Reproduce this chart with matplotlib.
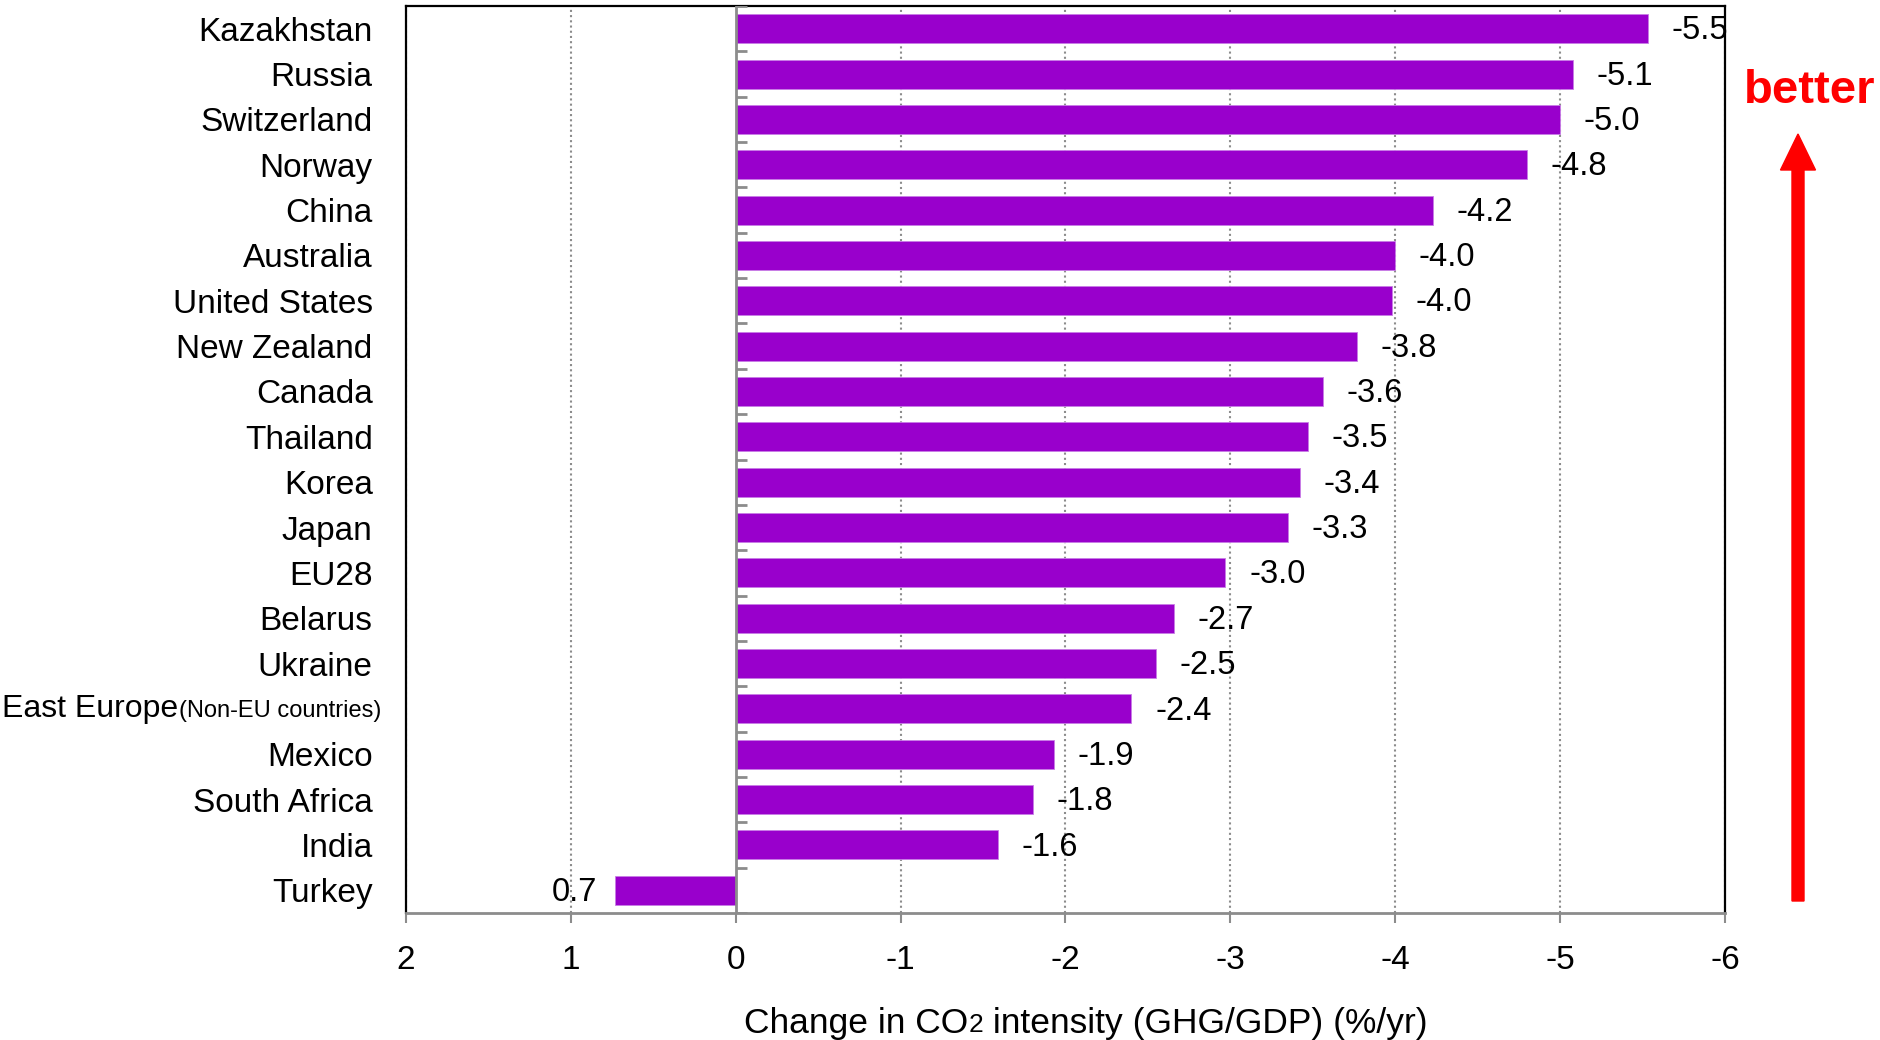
import matplotlib
matplotlib.use("Agg")
import matplotlib.pyplot as plt
import matplotlib.transforms as mtransforms
import numpy as np
from matplotlib.offsetbox import AnnotationBbox, HPacker, TextArea
from matplotlib.patches import FancyArrow

plt.rcParams["font.family"] = ["Liberation Sans", "DejaVu Sans"]

countries = [
    "Kazakhstan", "Russia", "Switzerland", "Norway", "China", "Australia",
    "United States", "New Zealand", "Canada", "Thailand", "Korea", "Japan",
    "EU28", "Belarus", "Ukraine", "East Europe", "Mexico", "South Africa",
    "India", "Turkey",
]
change = [
    -5.53, -5.08, -5.00, -4.80, -4.23, -4.00, -3.98, -3.77, -3.56, -3.47,
    -3.42, -3.35, -2.97, -2.66, -2.55, -2.40, -1.93, -1.80, -1.59, 0.73,
]
value_labels = [
    "-5.5", "-5.1", "-5.0", "-4.8", "-4.2", "-4.0", "-4.0", "-3.8", "-3.6",
    "-3.5", "-3.4", "-3.3", "-3.0", "-2.7", "-2.5", "-2.4", "-1.9", "-1.8",
    "-1.6", "0.7",
]
x_ticks = [2, 1, 0, -1, -2, -3, -4, -5, -6]

BAR = "#9900CC"
GRAY = "#8c8c8c"
FS = 24

fig = plt.figure(figsize=(18.81, 10.40), dpi=100)
ax = fig.add_axes([406 / 1881, 1 - 913 / 1040, (1725 - 406) / 1881, (913 - 6) / 1040])

n = len(countries)
ypos = np.arange(n)[::-1]
ax.barh(ypos, change, height=0.64, color=BAR, edgecolor="#c87de6", linewidth=0.6, zorder=3)

ax.set_xlim(2, -6)
ax.set_ylim(-0.5, n - 0.5)
ax.set_xticks(x_ticks)
ax.set_xticklabels([str(t) for t in x_ticks], fontsize=FS)
ax.tick_params(axis="x", direction="out", length=7, width=1.5, color=GRAY, pad=16)

# category labels on the left, East Europe handled separately
ax.set_yticks(ypos)
ax.set_yticklabels(["" if c == "East Europe" else c for c in countries], fontsize=FS)
ax.tick_params(axis="y", length=0, pad=24)

ee = countries.index("East Europe")
packed = HPacker(
    children=[
        TextArea("East Europe", textprops=dict(fontsize=FS - 1)),
        TextArea("(Non-EU countries)", textprops=dict(fontsize=17)),
    ],
    align="baseline", pad=0, sep=0,
)
ax.add_artist(AnnotationBbox(
    packed, (0, ypos[ee]), xycoords=("axes fraction", "data"),
    xybox=(-18, 0), boxcoords="offset points", box_alignment=(1, 0.5),
    frameon=False, annotation_clip=False,
))

# grid + zero axis
for t in x_ticks:
    if t == 0:
        continue
    ax.axvline(t, color=GRAY, linestyle=(0, (1, 1.5)), linewidth=1.5, zorder=1)
ax.axvline(0, color=GRAY, linewidth=2, zorder=4)
bounds = np.arange(n + 1) - 0.5
ax.hlines(bounds, 0, -0.07, color=GRAY, linewidth=2, zorder=4)

for side in ["left", "top", "right"]:
    ax.spines[side].set_color("black")
    ax.spines[side].set_linewidth(1.6)
ax.spines["bottom"].set_color(GRAY)
ax.spines["bottom"].set_linewidth(2)

# value labels
for y, v, lab in zip(ypos, change, value_labels):
    if v < 0:
        ax.annotate(lab, (v, y), xytext=(17, -1.5), textcoords="offset points",
                    ha="left", va="center", fontsize=FS - 0.5, zorder=5)
    else:
        ax.annotate(lab, (v, y), xytext=(-13, -1.5), textcoords="offset points",
                    ha="right", va="center", fontsize=FS - 0.5, zorder=5)

# x axis label with smaller "2"
xl_props = dict(fontsize=25.5, family=["Liberation Sans Narrow", "Liberation Sans"])
xl_small = dict(fontsize=19, family=["Liberation Sans Narrow", "Liberation Sans"])
xlabel = HPacker(
    children=[
        TextArea("Change in CO", textprops=xl_props),
        TextArea("2", textprops=xl_small),
        TextArea(" intensity (GHG/GDP) (%/yr)", textprops=xl_props),
    ],
    align="baseline", pad=0, sep=0,
)
fig.add_artist(AnnotationBbox(
    xlabel, (1086 / 1881, 1 - 1023 / 1040), xycoords="figure fraction",
    box_alignment=(0.5, 0.5), frameon=False,
))

# "better" arrow
fig.text(1810 / 1881, 1 - 103 / 1040, "better", color="red", fontsize=34,
         fontweight="bold", ha="center", va="baseline")
arrow = FancyArrow(1798, 1040 - 901, 0, 901 - 134, width=12, head_width=35,
                   head_length=36, length_includes_head=True, color="red",
                   transform=mtransforms.IdentityTransform())
fig.add_artist(arrow)

fig.savefig("out.png", dpi=100)
